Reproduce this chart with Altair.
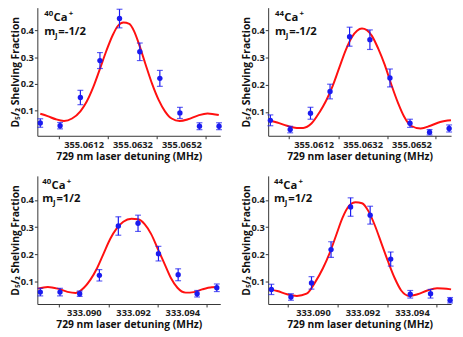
import altair as alt
import pandas as pd

# ---------------- Panel A: 40Ca+, mJ=-1/2 ----------------
a_x = [355.05943, 355.06024, 355.06107, 355.06187, 355.06267, 355.06350,
       355.06432, 355.06514, 355.06594, 355.06674]
a_y = [0.052, 0.042, 0.148, 0.287, 0.445, 0.320, 0.220, 0.090, 0.040, 0.040]
a_err = [0.016, 0.012, 0.027, 0.030, 0.035, 0.033, 0.030, 0.021, 0.013, 0.013]
a_fit_x = [355.05943, 355.05973, 355.06007, 355.06040, 355.06073, 355.06107,
           355.06133, 355.06160, 355.06187, 355.06213, 355.06240, 355.06260,
           355.06283, 355.06307, 355.06327, 355.06347, 355.06373, 355.06400,
           355.06427, 355.06453, 355.06480, 355.06513, 355.06547, 355.06587,
           355.06627, 355.06673]
a_fit_y = [0.087, 0.078, 0.066, 0.060, 0.069, 0.096, 0.133, 0.188, 0.256,
           0.323, 0.384, 0.417, 0.430, 0.425, 0.397, 0.348, 0.274, 0.200,
           0.139, 0.096, 0.069, 0.060, 0.066, 0.080, 0.088, 0.082]

# ---------------- Panel B: 44Ca+, mJ=-1/2 ----------------
b_x = [355.05943, 355.06024, 355.06107, 355.06187, 355.06267, 355.06350,
       355.06432, 355.06514, 355.06594, 355.06674]
b_y = [0.069, 0.035, 0.095, 0.175, 0.377, 0.366, 0.225, 0.058, 0.025, 0.039]
b_err = [0.020, 0.012, 0.022, 0.027, 0.035, 0.036, 0.033, 0.015, 0.010, 0.013]
b_fit_x = [355.059335, 355.059708, 355.060108, 355.060508, 355.060775,
           355.061108, 355.061441, 355.061708, 355.061975, 355.062241,
           355.062508, 355.062775, 355.062975, 355.063175, 355.063375,
           355.063575, 355.063841, 355.064108, 355.064375, 355.064641,
           355.064908, 355.065175, 355.065575, 355.065975, 355.066375,
           355.066815]
b_fit_y = [0.069, 0.061, 0.049, 0.041, 0.041, 0.057, 0.099, 0.141, 0.195,
           0.261, 0.327, 0.377, 0.399, 0.407, 0.401, 0.381, 0.333, 0.273,
           0.201, 0.135, 0.081, 0.049, 0.039, 0.049, 0.063, 0.069]

# ---------------- Panel C: 40Ca+, mJ=1/2 ----------------
c_x = [333.08823, 333.08903, 333.08983, 333.09063, 333.09140, 333.09220,
       333.09303, 333.09383, 333.09460, 333.09540]
c_y = [0.060, 0.060, 0.054, 0.122, 0.304, 0.314, 0.202, 0.124, 0.054, 0.076]
c_err = [0.014, 0.014, 0.010, 0.021, 0.034, 0.030, 0.027, 0.022, 0.012, 0.014]
c_fit_x = [333.088135, 333.088535, 333.088935, 333.089335, 333.089668,
           333.090001, 333.090268, 333.090535, 333.090801, 333.091068,
           333.091335, 333.091601, 333.091935, 333.092201, 333.092468,
           333.092735, 333.093001, 333.093268, 333.093535, 333.093801,
           333.094135, 333.094468, 333.094801, 333.095201, 333.095468]
c_fit_y = [0.073, 0.079, 0.073, 0.061, 0.057, 0.076, 0.106, 0.148, 0.202,
           0.256, 0.295, 0.320, 0.331, 0.329, 0.311, 0.274, 0.220, 0.166,
           0.112, 0.076, 0.058, 0.060, 0.070, 0.078, 0.079]

# ---------------- Panel D: 44Ca+, mJ=1/2 ----------------
d_x = [333.08832, 333.08911, 333.08994, 333.09073, 333.09152, 333.09231,
       333.09314, 333.09393, 333.09475, 333.09554]
d_y = [0.070, 0.042, 0.094, 0.217, 0.374, 0.344, 0.182, 0.052, 0.054, 0.030]
d_err = [0.019, 0.012, 0.023, 0.029, 0.034, 0.033, 0.026, 0.014, 0.016, 0.010]
d_fit_x = [333.088228, 333.088557, 333.088953, 333.089348, 333.089743,
           333.090072, 333.090402, 333.090665, 333.090929, 333.091192,
           333.091456, 333.091719, 333.091983, 333.092246, 333.092510,
           333.092773, 333.093037, 333.093300, 333.093564, 333.093893,
           333.094223, 333.094618, 333.095013, 333.095580]
d_fit_y = [0.070, 0.064, 0.052, 0.046, 0.054, 0.094, 0.148, 0.202, 0.268,
           0.334, 0.378, 0.392, 0.388, 0.358, 0.304, 0.238, 0.172, 0.112,
           0.066, 0.046, 0.052, 0.066, 0.074, 0.070]

# axis tick / label positions
ticks_355 = [355.0602, 355.0612, 355.0622, 355.0632, 355.0642, 355.0652, 355.0662]
ticks_333 = [333.089, 333.090, 333.091, 333.092, 333.093, 333.094, 333.095]
y_ticks = [0.1, 0.2, 0.3, 0.4]

FONT = "Open Sans"
BLUE = "#1b1bf0"
RED = "#ff1010"


def panel(px, py, perr, fx, fy, xdom, ydom, xvals, label_test, tick_test, fmt,
          mass, mj, ann_x, ann_y):
    pts = pd.DataFrame({
        "x": px, "y": py,
        "lo": [v - e for v, e in zip(py, perr)],
        "hi": [v + e for v, e in zip(py, perr)],
    })
    fit = pd.DataFrame({"x": fx, "y": fy})

    xaxis = alt.Axis(
        values=xvals,
        labelExpr=f"({label_test}) ? format(datum.value, '{fmt}') : ''",
        tickOpacity={"condition": {"test": tick_test, "value": 1}, "value": 0},
        labelOverlap=False, labelFlush=False,
        title="729 nm laser detuning (MHz)",
        tickSize=3, labelPadding=1, titlePadding=3,
    )
    yaxis = alt.Axis(values=y_ticks, format=".1f", tickSize=3, labelPadding=1,
                     title="D₅/₂ Shelving Fraction", titlePadding=0)
    X = alt.X("x:Q", scale=alt.Scale(domain=xdom, nice=False, zero=False), axis=xaxis)
    Y = alt.Y("y:Q", scale=alt.Scale(domain=ydom, nice=False, zero=False), axis=yaxis)
    Ylo = alt.Y("lo:Q", scale=alt.Scale(domain=ydom, nice=False, zero=False), axis=yaxis)
    Yhi = alt.Y("hi:Q", scale=alt.Scale(domain=ydom, nice=False, zero=False), axis=yaxis)

    curve = alt.Chart(fit).mark_line(color=RED, strokeWidth=2, interpolate="monotone").encode(x=X, y=Y)
    rules = alt.Chart(pts).mark_rule(color=BLUE, strokeWidth=1.2).encode(x=X, y=Ylo, y2="hi:Q")
    cap_lo = alt.Chart(pts).mark_tick(color=BLUE, orient="horizontal", size=6, thickness=1.2).encode(x=X, y=Ylo)
    cap_hi = alt.Chart(pts).mark_tick(color=BLUE, orient="horizontal", size=6, thickness=1.2).encode(x=X, y=Yhi)
    dots = alt.Chart(pts).mark_circle(color=BLUE, size=30, opacity=1).encode(x=X, y=Y)

    one = pd.DataFrame({"k": [0]})
    def txt(s, dx, dy, size):
        return alt.Chart(one).mark_text(
            text=s, font=FONT, fontWeight="bold", fontSize=size, align="left",
            baseline="alphabetic", color="#111"
        ).encode(x=alt.value(ann_x + dx), y=alt.value(ann_y + dy))

    labels = [
        txt(mass, 0, -5, 8),
        txt("Ca", 9.5, 0, 11.5),
        txt("+", 25, -5, 8),
        txt("m", 0, 14, 11.5),
        txt("J", 11, 17, 8),
        txt(mj, 14.5, 14, 11.5),
    ]
    return alt.layer(curve, rules, cap_lo, cap_hi, dots, *labels).properties(width=187, height=131)


pA = panel(a_x, a_y, a_err, a_fit_x, a_fit_y, [355.05931, 355.06679], [0.004, 0.486],
           ticks_355, "round(datum.value*10000) % 20 == 12",
           "round(datum.value*10000) % 20 == 2", ".4f", "40", "=-1/2", 7, 14)
pB = panel(b_x, b_y, b_err, b_fit_x, b_fit_y, [355.05934, 355.06682], [0.012, 0.484],
           ticks_355, "round(datum.value*10000) % 20 == 12",
           "round(datum.value*10000) % 20 == 2", ".4f", "44", "=-1/2", 7, 14)
pC = panel(c_x, c_y, c_err, c_fit_x, c_fit_y, [333.08811, 333.09554], [0.016, 0.489],
           ticks_333, "round(datum.value*1000) % 2 == 0",
           "round(datum.value*1000) % 2 == 1", ".3f", "40", "=1/2", 5, 13)
pD = panel(d_x, d_y, d_err, d_fit_x, d_fit_y, [333.08819, 333.09558], [0.016, 0.489],
           ticks_333, "round(datum.value*1000) % 2 == 0",
           "round(datum.value*1000) % 2 == 1", ".3f", "44", "=1/2", 6, 13)

chart = alt.concat(pA, pB, pC, pD, columns=2, spacing={"row": 41, "column": 49},
                   bounds="flush").properties(
    padding={"left": 2, "top": -4, "right": 0, "bottom": 0}
).configure_view(stroke=None).configure_axis(
    labelFont=FONT, titleFont=FONT, labelFontWeight="bold", titleFontWeight="bold",
    labelFontSize=9.5, titleFontSize=10.5, labelColor="#222", titleColor="#111",
    domainColor="#333", tickColor="#333", grid=False, domainWidth=1, tickWidth=1,
)

chart.save("out.html", embed_options={"renderer": "svg", "actions": False})
